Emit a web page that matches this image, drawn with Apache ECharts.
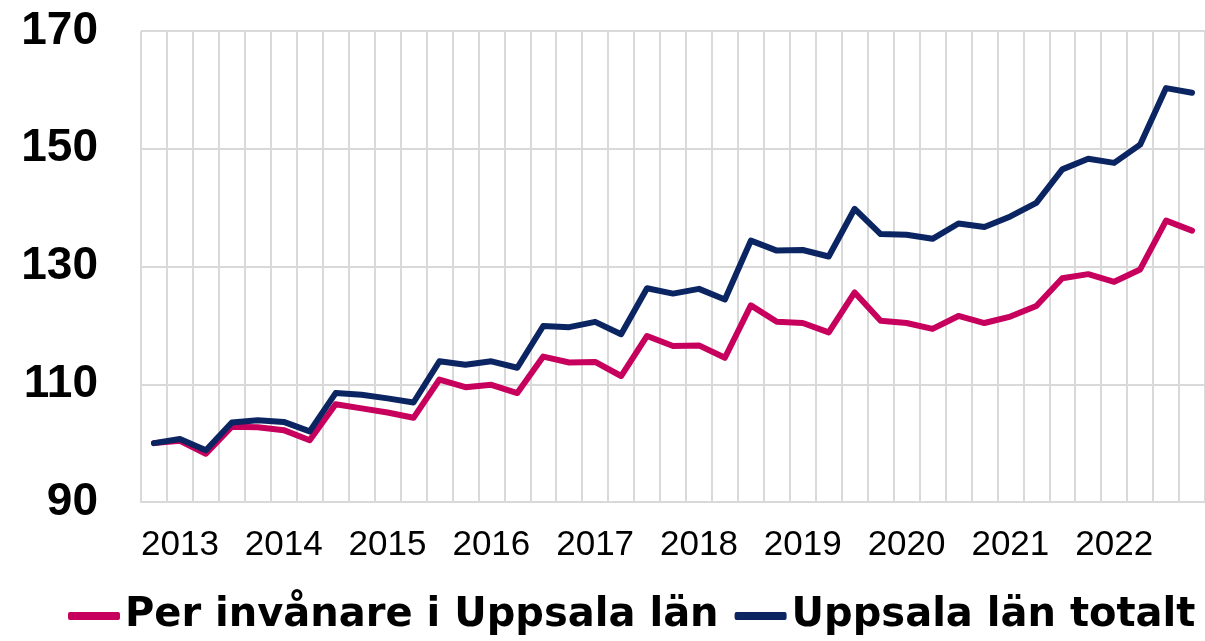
<!DOCTYPE html>
<html>
<head>
<meta charset="utf-8">
<title>Uppsala län</title>
<script src="https://cdn.jsdelivr.net/npm/echarts@6/dist/echarts.min.js"></script>
<style>
  html, body { margin: 0; padding: 0; background: #fff; }
  #chart { width: 1205px; height: 641px; }
</style>
</head>
<body>
<div id="chart"></div>
<script>
// kvartal 2013K1 - 2023K1
const quarters = []
for (let y = 2013; y <= 2023; y++) {
  for (let q = 1; q <= 4; q++) {
    if (y === 2023 && q > 1) break
    quarters.push(y + 'K' + q)
  }
}

const perInvanare = [
  100.0, 100.4, 98.2, 102.8, 102.7, 102.2, 100.5, 106.6, 105.9, 105.2,
  104.3, 110.8, 109.5, 109.9, 108.5, 114.7, 113.7, 113.8, 111.4, 118.2,
  116.5, 116.6, 114.5, 123.4, 120.6, 120.4, 118.8, 125.6, 120.8, 120.4,
  119.4, 121.6, 120.4, 121.5, 123.3, 128.0, 128.7, 127.4, 129.5, 137.8,
  136.1
]

const totalt = [
  100.0, 100.7, 98.8, 103.5, 103.9, 103.6, 102.0, 108.5, 108.2, 107.6,
  106.9, 113.9, 113.3, 113.9, 112.8, 119.9, 119.7, 120.6, 118.5, 126.3,
  125.4, 126.2, 124.4, 134.4, 132.7, 132.8, 131.7, 139.8, 135.5, 135.4,
  134.7, 137.3, 136.7, 138.5, 140.8, 146.5, 148.3, 147.6, 150.7, 160.3,
  159.5
]

const seriesNames = ['Per invånare i Uppsala län', 'Uppsala län totalt']
const gridColor = '#d9d9d9'

const chart = echarts.init(document.getElementById('chart'))

const option = {
  animation: false,
  color: ['#c7005e', '#0b2462'],
  legend: {
    data: seriesNames,
    left: 68,
    top: 596,
    padding: 0,
    itemGap: 16,
    itemWidth: 52,
    itemHeight: 8,
    icon: 'roundRect',
    textStyle: {
      fontFamily: 'DejaVu Sans',
      fontWeight: 'bold',
      fontSize: 40,
      color: '#000'
    }
  },
  grid: {
    left: 141,
    top: 31,
    width: 1066,
    height: 471
  },
  xAxis: {
    type: 'category',
    data: quarters,
    boundaryGap: true,
    axisLine: { lineStyle: { color: gridColor, width: 2 } },
    axisTick: { show: false },
    splitLine: {
      show: true,
      interval: 0,
      lineStyle: { color: gridColor, width: 2 }
    },
    axisLabel: {
      interval: (i) => i % 4 === 1,
      formatter: (v) => v.slice(0, 4),
      margin: 26,
      fontFamily: 'Liberation Sans',
      fontSize: 35,
      color: '#000'
    }
  },
  yAxis: {
    type: 'value',
    min: 90,
    max: 170,
    interval: 20,
    axisLine: { show: false },
    axisTick: { show: false },
    splitLine: { lineStyle: { color: gridColor, width: 2 } },
    axisLabel: {
      margin: 43,
      fontFamily: 'Liberation Sans',
      fontWeight: 'bold',
      fontSize: 46,
      color: '#000'
    }
  },
  series: [
    {
      name: seriesNames[0],
      type: 'line',
      data: perInvanare,
      symbol: 'none',
      lineStyle: { width: 6, cap: 'round', join: 'round' }
    },
    {
      name: seriesNames[1],
      type: 'line',
      data: totalt,
      symbol: 'none',
      lineStyle: { width: 6, cap: 'round', join: 'round' }
    }
  ]
}

chart.setOption(option)
</script>
</body>
</html>
